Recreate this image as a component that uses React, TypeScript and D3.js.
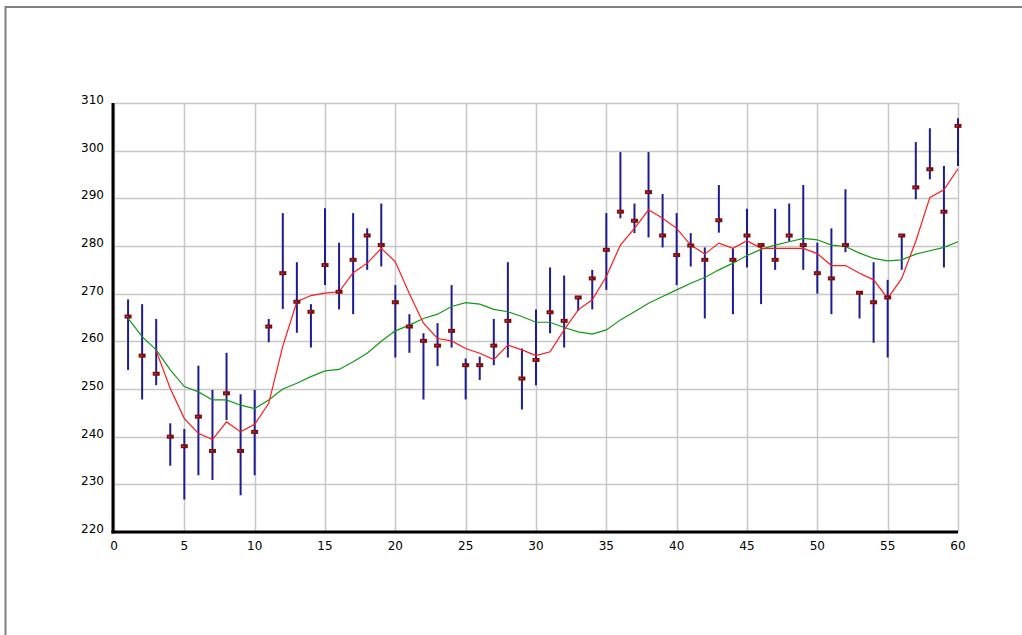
import React from "react";
import * as d3 from "d3";

const xs: number[] = d3.range(1, 61);

const high: number[] = [
  268.8, 267.8, 264.7, 242.8, 241.6, 254.9, 249.8, 257.6, 248.9, 249.8,
  264.7, 286.9, 276.6, 267.8, 287.9, 280.7, 286.9, 283.7, 288.9, 271.8,
  265.7, 261.7, 263.8, 271.8, 256.4, 256.8, 264.7, 276.6, 258.5, 266.7,
  275.5, 273.8, 269.2, 275.0, 286.9, 299.7, 288.9, 299.7, 290.9, 286.9,
  282.7, 279.7, 292.8, 279.5, 287.8, 280.4, 287.8, 288.9, 292.8, 280.7,
  283.7, 291.9, 270.2, 276.6, 272.9, 282.2, 301.8, 304.7, 296.8, 306.8,
];

const low: number[] = [
  254.0, 247.8, 250.8, 233.9, 226.8, 231.9, 230.9, 243.5, 227.7, 231.9,
  259.8, 266.8, 261.8, 258.7, 271.8, 266.7, 265.7, 275.0, 275.7, 256.6,
  257.6, 247.8, 254.8, 258.7, 247.8, 251.9, 255.0, 256.6, 245.7, 250.8,
  261.7, 258.7, 266.4, 266.7, 270.8, 285.8, 282.7, 281.8, 279.7, 271.8,
  275.7, 264.8, 282.8, 265.7, 275.5, 267.8, 275.0, 281.0, 275.0, 270.0,
  265.7, 278.7, 264.8, 259.7, 256.6, 275.0, 289.8, 294.0, 275.5, 296.8,
];

const close: number[] = [
  265.2, 257.0, 253.2, 240.0, 238.0, 244.2, 237.0, 249.1, 237.0, 241.0,
  263.1, 274.3, 268.3, 266.2, 276.0, 270.4, 277.1, 282.2, 280.2, 268.2,
  263.1, 260.1, 259.1, 262.2, 255.0, 255.0, 259.1, 264.3, 252.2, 256.1,
  266.1, 264.3, 269.2, 273.2, 279.2, 287.2, 285.3, 291.3, 282.2, 278.1,
  280.1, 277.1, 285.4, 277.1, 282.2, 280.2, 277.1, 282.2, 280.2, 274.3,
  273.2, 280.2, 270.2, 268.2, 269.2, 282.2, 292.3, 296.1, 287.2, 305.2,
];

// short moving average (red), starts at x = 3
const redStart = 3;
const redLine: number[] = [
  258.0, 250.1, 243.8, 240.7, 239.4, 243.1, 241.0, 242.6, 247.0, 259.0,
  268.3, 269.6, 270.1, 270.4, 274.4, 276.4, 279.5, 276.7, 270.0, 263.8,
  260.6, 260.1, 258.5, 257.5, 256.2, 259.2, 258.2, 257.0, 257.8, 262.4,
  266.6, 268.7, 273.6, 280.2, 283.7, 287.6, 285.8, 283.7, 280.2, 278.3,
  280.6, 279.5, 281.1, 279.5, 279.5, 279.5, 279.5, 278.4, 275.9, 275.9,
  274.3, 272.9, 269.0, 273.2, 281.0, 290.2, 291.8, 296.2,
];

// long moving average (green), starts at x = 1
const greenLine: number[] = [
  264.8, 261.0, 258.2, 254.0, 250.5, 249.4, 247.7, 247.7, 246.6, 245.9,
  247.7, 250.0, 251.2, 252.6, 253.8, 254.1, 255.7, 257.5, 260.0, 262.2,
  263.4, 264.8, 265.7, 267.3, 268.1, 267.8, 266.7, 266.2, 265.2, 264.0,
  264.0, 262.9, 262.0, 261.5, 262.4, 264.5, 266.2, 268.0, 269.4, 270.8,
  272.2, 273.4, 275.0, 276.4, 278.0, 279.3, 280.2, 280.9, 281.6, 281.3,
  280.2, 279.9, 278.5, 277.4, 276.9, 277.1, 278.3, 279.0, 279.7, 280.9,
];

const xTicks: number[] = [0, 5, 10, 15, 20, 25, 30, 35, 40, 45, 50, 55, 60];
const yTicks: number[] = [220, 230, 240, 250, 260, 270, 280, 290, 300, 310];

const W = 1022;
const H = 635;
const left = 114;
const right = 958;
const top = 103;
const bottom = 532;

export default function App() {
  const x = d3.scaleLinear().domain([0, 60]).range([left, right]);
  const y = d3.scaleLinear().domain([220, 310]).range([bottom, top]);

  const redPts: [number, number][] = redLine.map((v, i) => [x(i + redStart), y(v)]);
  const greenPts: [number, number][] = greenLine.map((v, i) => [x(i + 1), y(v)]);
  const line = d3.line();

  const font = "Tahoma, 'DejaVu Sans', Verdana, sans-serif";

  return (
    <svg
      width={W}
      height={H}
      style={{ position: "absolute", left: 0, top: 0, background: "#fff" }}
    >
      {/* outer frame */}
      <rect x={5.5} y={7} width={1030} height={700} fill="#fff" stroke="#808080" strokeWidth={2} />

      {/* grid */}
      {xTicks.map((t) => (
        <line key={"gx" + t} x1={Math.round(x(t)) + 0.5} x2={Math.round(x(t)) + 0.5} y1={top} y2={bottom}
          stroke="#c8c8c8" strokeWidth={1.5} />
      ))}
      {yTicks.map((t) => (
        <line key={"gy" + t} x1={left} x2={right} y1={Math.round(y(t)) + 0.5} y2={Math.round(y(t)) + 0.5}
          stroke="#c8c8c8" strokeWidth={1.5} />
      ))}

      {/* high-low bars */}
      {xs.map((xv, i) => (
        <line key={"hl" + xv} x1={x(xv)} x2={x(xv)} y1={y(high[i])} y2={y(low[i])}
          stroke="#1c1c94" strokeWidth={2} />
      ))}

      {/* moving averages */}
      <path d={line(greenPts) || ""} fill="none" stroke="#139a13" strokeWidth={1.2} />
      <path d={line(redPts) || ""} fill="none" stroke="#ff1a1a" strokeWidth={1.2} />

      {/* close markers */}
      {xs.map((xv, i) => (
        <g key={"c" + xv}>
          <rect x={x(xv) - 3.5} y={y(close[i]) - 2} width={7} height={4} fill="#800c0c" />
          <rect x={x(xv) - 2} y={y(close[i]) - 0.5} width={2} height={1} fill="#b85050" />
        </g>
      ))}

      {/* axes */}
      <line x1={left - 1} x2={left - 1} y1={top} y2={bottom + 1.5} stroke="#000" strokeWidth={3} />
      <line x1={left - 2.5} x2={right} y1={bottom} y2={bottom} stroke="#000" strokeWidth={3} />

      {/* tick labels */}
      {yTicks.map((t) => (
        <text key={"ty" + t} x={104} y={y(t) + 1} textAnchor="end" fontFamily={font} fontSize={12} fill="#000">
          {t}
        </text>
      ))}
      {xTicks.map((t) => (
        <text key={"tx" + t} x={x(t)} y={550} textAnchor="middle" fontFamily={font} fontSize={12} fill="#000">
          {t}
        </text>
      ))}
    </svg>
  );
}
